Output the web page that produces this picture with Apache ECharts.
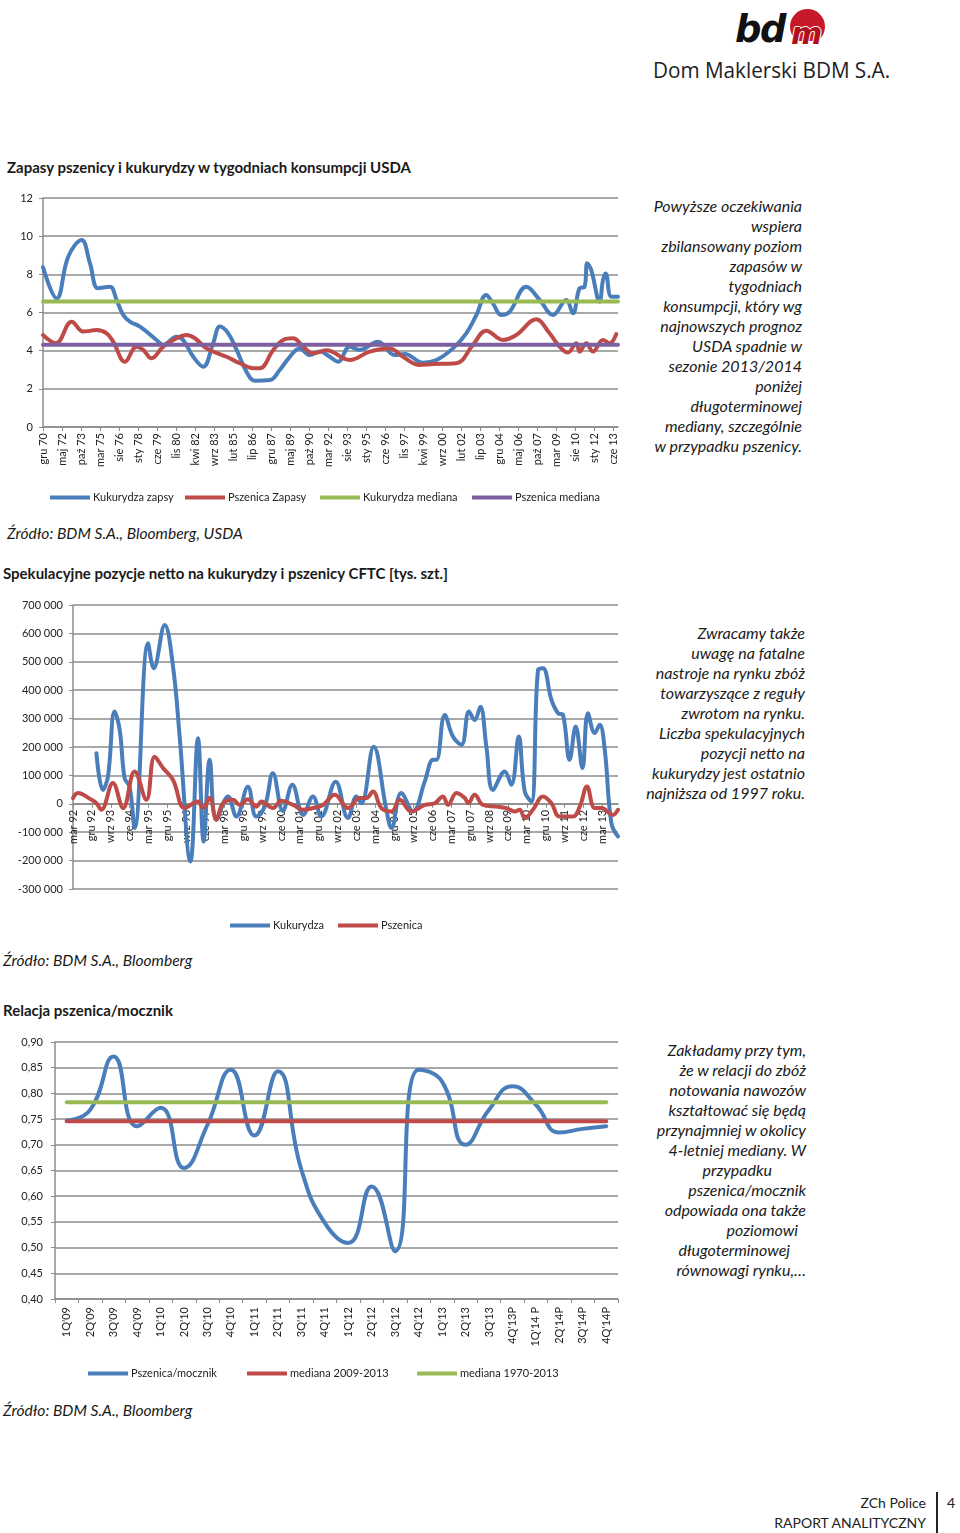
<!DOCTYPE html>
<html><head><meta charset="utf-8">
<script src="https://cdn.jsdelivr.net/npm/echarts/dist/echarts.min.js"></script>
<style>
body{margin:0;background:#fff;font-family:Lato,'Open Sans',sans-serif;color:#1a1a1a}
#page{position:relative;width:960px;height:1533px;overflow:hidden;background:#fff}
.abs{position:absolute}
.title{font-weight:bold;font-size:15px;line-height:18px;white-space:nowrap}
.src{font-style:italic;font-size:15.6px;line-height:18px;white-space:nowrap}
.side{font-style:italic;font-size:16px;line-height:20px;white-space:nowrap}
.side span{display:block}
</style></head>
<body><div id="page">

<!-- logo -->
<div class="abs" style="left:735px;top:10px;font:italic 900 37px 'DejaVu Sans',sans-serif;color:#111;letter-spacing:-1.5px;line-height:40px">bd</div>
<div class="abs" style="left:790px;top:9px;width:36px;height:32px;overflow:hidden">
  <div style="width:35px;height:35px;border-radius:50%;background:#c61a2a"></div>
</div>
<div class="abs" style="left:791px;top:17px;font:italic bold 30px 'DejaVu Sans',sans-serif;color:#b0101c;line-height:34px;text-shadow:-1px 0 #fff,1px 0 #fff,0 1px #fff,0 -1px #fff">m</div>
<div class="abs" style="left:653px;top:54px;font-size:22px;font-family:'Open Sans',sans-serif;color:#222;white-space:nowrap;transform:scaleX(0.94);transform-origin:left">Dom Maklerski BDM S.A.</div>

<div class="abs title" style="left:7px;top:158px">Zapasy pszenicy i kukurydzy w tygodniach konsumpcji USDA</div>
<div id="c1" class="abs" style="left:0;top:185px;width:640px;height:330px"></div>
<div class="abs side" style="right:158px;top:196px;text-align:right">Powyższe oczekiwania<br>wspiera<br>zbilansowany poziom<br>zapasów w<br>tygodniach<br>konsumpcji, który wg<br>najnowszych prognoz<br>USDA spadnie w<br>sezonie 2013/2014<br>poniżej<br>długoterminowej<br>mediany, szczególnie<br>w przypadku pszenicy.</div>
<div class="abs src" style="left:7px;top:524px">Źródło: BDM S.A., Bloomberg, USDA</div>

<div class="abs title" style="left:3px;top:564px">Spekulacyjne pozycje netto na kukurydzy i pszenicy CFTC [tys. szt.]</div>
<div id="c2" class="abs" style="left:0;top:590px;width:640px;height:350px"></div>
<div class="abs side" style="right:155px;top:623px;text-align:right">Zwracamy także<br>uwagę na fatalne<br>nastroje na rynku zbóż<br>towarzyszące z reguły<br>zwrotom na rynku.<br>Liczba spekulacyjnych<br>pozycji netto na<br>kukurydzy jest ostatnio<br>najniższa od 1997 roku.</div>
<div class="abs src" style="left:3px;top:951px">Źródło: BDM S.A., Bloomberg</div>

<div class="abs title" style="left:3px;top:1001px">Relacja pszenica/mocznik</div>
<div id="c3" class="abs" style="left:0;top:1030px;width:640px;height:360px"></div>
<div class="abs side" style="right:154px;top:1040px;text-align:right"><span>Zakładamy przy tym,</span><span>że w relacji do zbóż</span><span>notowania nawozów</span><span>kształtować się będą</span><span>przynajmniej w okolicy</span><span>4-letniej mediany. W</span><span style="padding-right:34px">przypadku</span><span>pszenica/mocznik</span><span>odpowiada ona także</span><span style="padding-right:8px">poziomowi</span><span style="padding-right:16px">długoterminowej</span><span>równowagi rynku,…</span></div>
<div class="abs src" style="left:3px;top:1401px">Źródło: BDM S.A., Bloomberg</div>

<!-- footer -->
<div class="abs" style="right:34px;top:1493px;font-size:14px;line-height:20px;text-align:right;white-space:nowrap;color:#222">ZCh Police<br>RAPORT ANALITYCZNY</div>
<div class="abs" style="left:936px;top:1492px;width:1.5px;height:41px;background:#222"></div>
<div class="abs" style="left:947px;top:1493px;font-size:14px;line-height:20px;color:#222">4</div>
</div>

<script>
// ---------- Chart 1 data: stocks in weeks of consumption ----------
var labels1 = ['gru 70','maj 72','paź 73','mar 75','sie 76','sty 78','cze 79','lis 80','kwi 82','wrz 83','lut 85','lip 86','gru 87','maj 89','paź 90','mar 92','sie 93','sty 95','cze 96','lis 97','kwi 99','wrz 00','lut 02','lip 03','gru 04','maj 06','paź 07','mar 09','sie 10','sty 12','cze 13'];
var cornStocks = [[0,8.37],[0.72,6.74],[1.33,8.93],[2.03,9.8],[2.47,8.58],[2.9,7.27],[3.52,7.35],[3.87,6.66],[4.22,5.87],[4.57,5.52],[5.1,5.26],[5.97,4.56],[6.32,4.3],[7.02,4.73],[7.37,4.56],[7.9,3.68],[8.42,3.16],[8.95,4.39],[9.3,5.26],[9.74,4.91],[10.18,4.04],[10.7,2.9],[11.14,2.43],[11.93,2.46],[12.45,2.99],[12.98,3.68],[13.5,4.12],[14.03,3.77],[14.56,3.95],[15.08,3.68],[15.52,3.42],[16.13,4.21],[16.66,4.04],[17.62,4.47],[18.5,3.77],[19.02,3.83],[19.98,3.37],[20.69,3.51],[21.56,4.12],[22.26,4.91],[22.79,5.87],[23.31,6.92],[23.66,6.48],[24.1,5.87],[24.54,6.04],[25.42,7.35],[26.12,6.66],[26.82,5.87],[27.52,6.66],[27.87,5.96],[28.22,7.27],[28.48,7.35],[28.62,8.58],[28.83,8.23],[29.27,6.57],[29.45,7.7],[29.59,8.05],[29.89,6.83],[30.24,6.83]];
var wheatStocks = [[0,4.82],[0.68,4.39],[1.51,5.52],[2.12,5.0],[2.82,5.08],[3.35,4.91],[3.69,4.47],[4.31,3.42],[4.92,4.21],[5.27,4.04],[5.71,3.6],[6.32,4.21],[7.02,4.65],[7.55,4.82],[7.99,4.65],[8.6,4.12],[9.65,3.68],[10.35,3.34],[11.05,3.08],[11.4,3.08],[12.11,4.04],[12.63,4.56],[13.15,4.65],[13.68,4.21],[14.2,3.86],[14.9,4.02],[16.13,3.51],[17.18,3.95],[18.23,4.12],[18.93,3.68],[19.81,3.25],[20.51,3.3],[21.74,3.34],[22.61,4.3],[23.31,5.05],[24.19,4.56],[24.89,4.82],[25.94,5.64],[26.64,4.91],[27.17,4.21],[27.6,3.9],[28.05,4.39],[28.22,3.95],[28.57,4.39],[28.92,3.95],[29.45,4.56],[29.8,4.39],[30.15,4.87]];
var cornMedian1 = 6.57;
var wheatMedian1 = 4.31;
var xEnd1 = 30.24;

// ---------- Chart 2 data: CFTC net positions ----------
var labels2 = ['mar 92','gru 92','wrz 93','cze 94','mar 95','gru 95','wrz 96','cze 97','mar 98','gru 98','wrz 99','cze 00','mar 01','gru 01','wrz 02','cze 03','mar 04','gru 04','wrz 05','cze 06','mar 07','gru 07','wrz 08','cze 09','mar 10','gru 10','wrz 11','cze 12','mar 13'];
var cornNet = [[1.24,178000],[1.58,49000],[1.85,96000],[2.20,325000],[2.47,260000],[2.73,90000],[2.99,61000],[3.26,-85000],[3.97,565000],[4.27,477000],[4.85,630000],[5.29,483000],[5.64,237000],[6.21,-203000],[6.61,231000],[6.91,-133000],[7.23,155000],[7.58,-56000],[8.20,26000],[8.64,-45000],[9.25,60000],[9.69,-45000],[10.14,-10000],[10.57,108000],[11.10,-25000],[11.60,67000],[12.17,-39000],[12.69,26000],[13.13,-45000],[13.89,78000],[14.54,-50000],[14.99,26000],[15.25,2000],[15.90,201000],[16.57,-21000],[16.84,-85000],[17.36,38000],[17.98,-27000],[18.60,78000],[19.04,155000],[19.22,155000],[19.66,313000],[20.09,237000],[20.54,208000],[20.94,325000],[21.24,295000],[21.54,342000],[21.86,201000],[22.21,49000],[22.83,114000],[23.18,67000],[23.57,237000],[23.89,43000],[24.24,8000],[24.59,471000],[24.85,477000],[25.30,366000],[25.65,319000],[25.91,313000],[26.26,155000],[26.58,272000],[26.94,126000],[27.23,319000],[27.59,249000],[27.85,278000],[28.12,190000],[28.47,-68000],[28.82,-115000]];
var wheatNet = [[0,20000],[0.26,38000],[0.98,14000],[1.24,2000],[1.50,-21000],[2.11,73000],[2.65,-15000],[3.26,114000],[3.88,14000],[4.32,166000],[4.76,126000],[5.29,84000],[5.91,-15000],[6.61,8000],[6.88,-15000],[7.23,20000],[7.58,-56000],[7.93,2000],[8.46,14000],[8.82,-4000],[9.25,16000],[9.69,-10000],[9.97,8000],[10.57,-15000],[11.02,11000],[11.64,-4000],[12.17,-21000],[12.69,-15000],[13.22,-4000],[13.84,32000],[14.54,-15000],[15.16,20000],[15.52,20000],[15.86,43000],[16.31,-15000],[16.84,-27000],[17.28,14000],[17.89,-27000],[18.60,-4000],[19.13,2000],[19.56,26000],[19.83,-4000],[20.28,38000],[20.72,20000],[20.90,2000],[21.24,32000],[21.68,-4000],[22.39,-10000],[22.91,-15000],[23.36,-27000],[23.62,-21000],[23.89,-50000],[24.32,-21000],[24.85,26000],[25.30,2000],[25.73,-45000],[26.44,-45000],[26.80,-10000],[27.18,61000],[27.59,-15000],[27.94,-15000],[28.55,-39000],[28.82,-21000]];
var xEnd2 = 28.82;

// ---------- Chart 3 data: wheat / urea ratio ----------
var quarters = ["1Q'09","2Q'09","3Q'09","4Q'09","1Q'10","2Q'10","3Q'10","4Q'10","1Q'11","2Q'11","3Q'11","4Q'11","1Q'12","2Q'12","3Q'12","4Q'12","1Q'13","2Q'13","3Q'13","4Q'13P","1Q'14 P","2Q'14P","3Q'14P","4Q'14P"];
var wheatUrea = [0.747,0.768,0.872,0.736,0.772,0.655,0.739,0.846,0.718,0.843,0.652,0.548,0.509,0.619,0.493,0.846,0.823,0.700,0.768,0.814,0.778,0.724,0.731,0.736];
var median0913 = 0.746;
var median7013 = 0.783;

var BLUE='#4a7ebb', RED='#be4b48', GREEN='#98b954', PURPLE='#7d60a0';
var GRID='#8c8c8c', TXT='#222', FONT='Lato';

function legendItem(name, left, top){
  return {data:[name], left:left, top:top, padding:0, icon:'rect', itemWidth:40, itemHeight:4, itemGap:0,
    textStyle:{fontFamily:FONT, fontSize:11, color:TXT, padding:[0,0,0,-2]}, selectedMode:false};
}
function lineSeries(name, data, color, extra){
  var s = {name:name, type:'line', data:data, showSymbol:false, symbol:'none',
    lineStyle:{color:color, width:4, cap:'round', join:'round'}, itemStyle:{color:color}, animation:false};
  for (var k in extra) s[k]=extra[k];
  return s;
}
function idxFormatter(labels){
  return function(v){ var r=Math.round(v); return (Math.abs(v-r)<1e-6 && labels[r]!==undefined)?labels[r]:''; };
}

// Chart 1
var c1 = echarts.init(document.getElementById('c1'));
c1.setOption({
  animation:false,
  grid:{left:43, top:13, width:575, height:229, containLabel:false},
  legend:[legendItem('Kukurydza zapsy',50,307), legendItem('Pszenica Zapasy',185,307), legendItem('Kukurydza mediana',320,307), legendItem('Pszenica mediana',472,307)],
  xAxis:{type:'value', min:0, max:xEnd1, interval:1,
    axisLine:{lineStyle:{color:GRID, width:1.5}}, axisTick:{show:true, length:4, lineStyle:{color:GRID}},
    splitLine:{show:false},
    axisLabel:{rotate:90, fontFamily:FONT, fontSize:11, color:TXT, margin:6, formatter:idxFormatter(labels1), showMaxLabel:false}},
  yAxis:{type:'value', min:0, max:12, interval:2,
    axisLine:{show:true, lineStyle:{color:GRID, width:1.5}}, axisTick:{show:true, length:4, lineStyle:{color:GRID}},
    splitLine:{lineStyle:{color:GRID, width:1.5}},
    axisLabel:{fontFamily:FONT, fontSize:11, color:TXT, margin:10}},
  series:[
    lineSeries('Kukurydza zapsy', cornStocks, BLUE, {smooth:0.4}),
    lineSeries('Pszenica Zapasy', wheatStocks, RED, {smooth:0.4}),
    lineSeries('Kukurydza mediana', [[0,cornMedian1],[xEnd1,cornMedian1]], GREEN),
    lineSeries('Pszenica mediana', [[0,wheatMedian1],[xEnd1,wheatMedian1]], PURPLE)
  ]
});

// Chart 2 (x axis crosses the value axis at 0: 3 of 10 bands above the bottom)
function thou(v){ if (v===0) return '0'; var s=Math.abs(v).toString().replace(/\B(?=(\d{3})+(?!\d))/g,' '); return (v<0?'-':'')+s; }
var yMin2 = -300000, yMax2 = 700000, gridH2 = 284;
var c2 = echarts.init(document.getElementById('c2'));
c2.setOption({
  animation:false,
  grid:{left:73, top:15, width:545, height:gridH2, containLabel:false},
  legend:[legendItem('Kukurydza',230,330), legendItem('Pszenica',338,330)],
  xAxis:{type:'value', min:0, max:xEnd2, interval:1, offset: -gridH2 * (0 - yMin2) / (yMax2 - yMin2),
    axisLine:{onZero:false, lineStyle:{color:GRID, width:1.5}}, axisTick:{show:true, length:4, lineStyle:{color:GRID}},
    splitLine:{show:false},
    axisLabel:{rotate:90, fontFamily:FONT, fontSize:11, color:TXT, margin:6, formatter:idxFormatter(labels2), showMaxLabel:false}},
  yAxis:{type:'value', min:yMin2, max:yMax2, interval:100000,
    axisLine:{show:true, onZero:false, lineStyle:{color:GRID, width:1.5}}, axisTick:{show:true, length:4, lineStyle:{color:GRID}},
    splitLine:{lineStyle:{color:GRID, width:1.5}},
    axisLabel:{fontFamily:FONT, fontSize:11, color:TXT, margin:10, formatter:thou}},
  series:[
    lineSeries('Kukurydza', cornNet, BLUE, {smooth:0.4}),
    lineSeries('Pszenica', wheatNet, RED, {smooth:0.4})
  ]
});

// Chart 3
var c3 = echarts.init(document.getElementById('c3'));
c3.setOption({
  animation:false,
  grid:{left:55, top:12, width:563, height:257, containLabel:false},
  legend:[legendItem('Pszenica/mocznik',88,338), legendItem('mediana 2009-2013',247,338), legendItem('mediana 1970-2013',417,338)],
  xAxis:{type:'category', data:quarters, boundaryGap:true,
    axisLine:{lineStyle:{color:GRID, width:1.5}}, axisTick:{show:true, length:4, lineStyle:{color:GRID}},
    axisLabel:{rotate:90, interval:0, fontFamily:FONT, fontSize:11, color:TXT, margin:8}},
  yAxis:{type:'value', min:0.4, max:0.9, interval:0.05,
    axisLine:{show:true, lineStyle:{color:GRID, width:1.5}}, axisTick:{show:true, length:4, lineStyle:{color:GRID}},
    splitLine:{lineStyle:{color:GRID, width:1.5}},
    axisLabel:{fontFamily:FONT, fontSize:11, color:TXT, margin:12, formatter:function(v){return v.toFixed(2).replace('.',',');}}},
  series:[
    lineSeries('Pszenica/mocznik', wheatUrea, BLUE, {smooth:0.5}),
    lineSeries('mediana 2009-2013', quarters.map(function(){return median0913;}), RED),
    lineSeries('mediana 1970-2013', quarters.map(function(){return median7013;}), GREEN)
  ]
});
</script>
</body></html>
